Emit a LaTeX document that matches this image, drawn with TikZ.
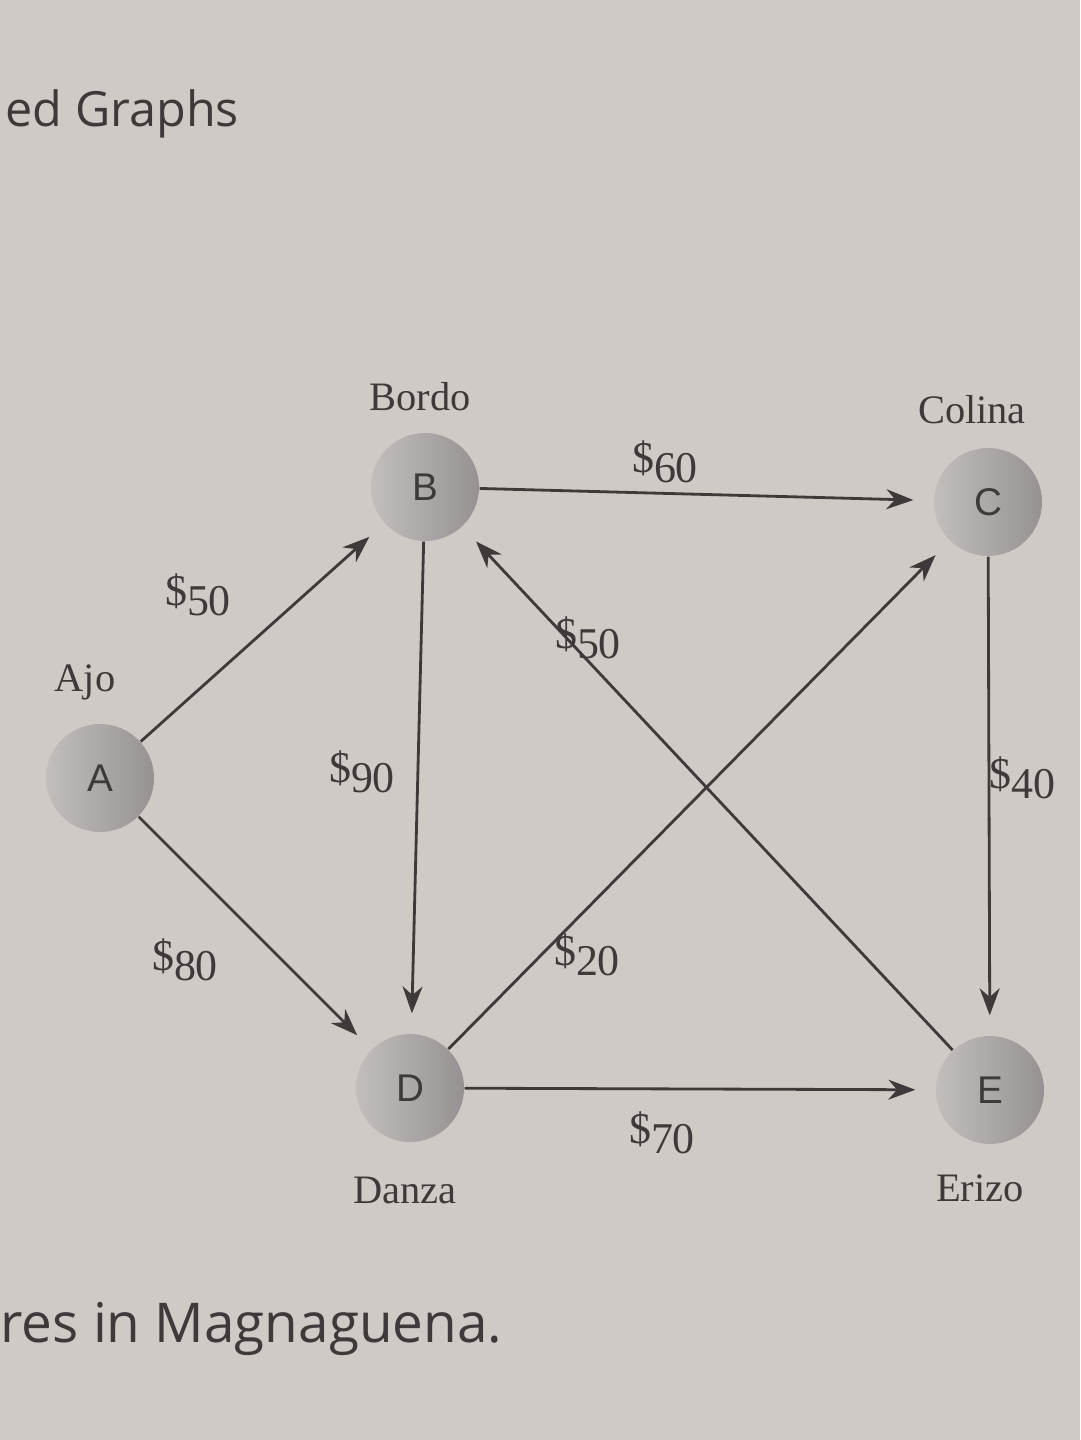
\documentclass[tikz,border=0pt]{standalone}
\usepackage{fontspec}
\setmainfont{Liberation Serif}
\newfontfamily\hdfont{Open Sans}
\newfontfamily\ltfont{Liberation Sans}
\usetikzlibrary{arrows.meta}
\definecolor{paper}{RGB}{207,202,198}
\definecolor{ink}{RGB}{62,58,58}
\definecolor{ballL}{RGB}{194,190,188}
\definecolor{ballR}{RGB}{150,146,146}
\newcommand\wtdol{\raisebox{0.22em}{\$}}
\begin{document}
\begin{tikzpicture}[x=0.1mm,y=-0.1mm,
  vtx/.style={circle, minimum size=10.8mm, inner sep=0pt, left color=ballL, right color=ballR, text=ink, font=\ltfont\fontsize{11}{11}\selectfont},
  city/.style={text=ink, font=\fontsize{11.5}{12}\selectfont, inner sep=0pt},
  wt/.style={text=ink, font=\fontsize{12.5}{13}\selectfont, inner sep=0pt},
  edge/.style={draw=ink, line width=0.8pt, -{Stealth[length=2.7mm,width=2mm]}, shorten >=2mm},
  hd/.style={text=ink, font=\hdfont\fontsize{13.8}{15}\selectfont, inner sep=0pt, anchor=base west}]
\fill[paper] (0,0) rectangle (1080,1440);
\useasboundingbox (0,0) rectangle (1080,1440);

\node[hd] (title) at (5,127) {ed Graphs};
\node[hd, font=\hdfont\fontsize{15.6}{17}\selectfont] (caption) at (0,1342) {res in Magnaguena.};

\node[vtx] (A) at (100,778) {A};
\node[vtx] (B) at (425,487) {B};
\node[vtx] (C) at (988,502) {C};
\node[vtx] (D) at (410,1088) {D};
\node[vtx] (E) at (990,1090) {E};

\node[city] (nA) at (85,682) {Ajo};
\node[city] (nB) at (420,397) {Bordo};
\node[city] (nC) at (972,410) {Colina};
\node[city] (nD) at (405,1190) {Danza};
\node[city] (nE) at (980,1188) {Erizo};

\draw[edge] (A) -- (B);
\draw[edge] (A) -- (D);
\draw[edge] (B) -- (C);
\draw[edge] (B) -- (D);
\draw[edge] (C) -- (E);
\draw[edge] (D) -- (C);
\draw[edge] (E) -- (B);
\draw[edge] (D) -- (E);

\node[wt] (wAB) at (198,595) {\wtdol50};
\node[wt] (wAD) at (185,960) {\wtdol80};
\node[wt] (wBC) at (665,462) {\wtdol60};
\node[wt] (wBD) at (362,772) {\wtdol90};
\node[wt] (wCE) at (1022,778) {\wtdol40};
\node[wt] (wEB) at (588,638) {\wtdol50};
\node[wt] (wDC) at (587,955) {\wtdol20};
\node[wt] (wDE) at (662,1133) {\wtdol70};
\end{tikzpicture}
\end{document}
